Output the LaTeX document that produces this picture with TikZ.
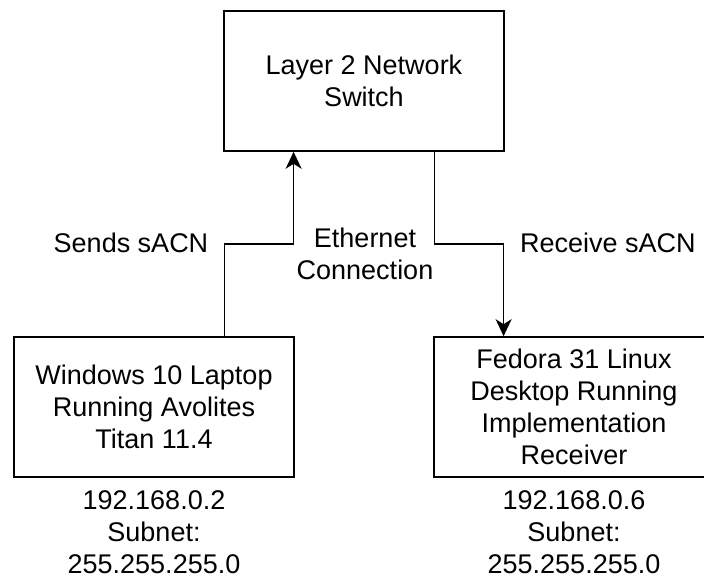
\documentclass[tikz,border=0pt]{standalone}
\usepackage{fontspec}
\setmainfont{Liberation Sans}
\usetikzlibrary{arrows.meta,calc}
\begin{document}
\begin{tikzpicture}[x=1pt,y=-1pt,
  box/.style={draw,line width=1.6pt,minimum width=280pt,minimum height=140pt,inner sep=0pt,align=center},
  lbl/.style={inner sep=0pt,align=center},
  conn/.style={line width=1.6pt,-{Stealth[length=17pt,width=16pt,inset=5pt]}},
  font=\fontsize{27}{32}\selectfont]
\clip (0,0) rectangle (704,578);
\node[box] (sw) at (364,81) {Layer 2 Network\\Switch};
\node[box] (left) at (154,407) {Windows 10 Laptop\\Running Avolites\\Titan 11.4};
\node[box] (right) at (574,407) {Fedora 31 Linux\\Desktop Running\\Implementation\\Receiver};
\coordinate (a1) at ($(left.north west)!0.75!(left.north east)$);
\coordinate (a2) at ($(sw.south west)!0.25!(sw.south east)$);
\coordinate (b1) at ($(sw.south west)!0.75!(sw.south east)$);
\coordinate (b2) at ($(right.north west)!0.25!(right.north east)$);
\draw[conn] (a1) |- ($(a1)!0.5!(a2)$) -| (a2);
\draw[conn] (b1) |- ($(b1)!0.5!(b2)$) -| (b2);
\node[lbl] (sends) at (131,243) {Sends sACN};
\node[lbl] (recv) at (608,243) {Receive sACN};
\node[lbl] (eth) at (365,254) {Ethernet\\Connection};
\node[lbl] (ipl) at (154,532) {192.168.0.2\\Subnet:\\255.255.255.0};
\node[lbl] (ipr) at (574,532) {192.168.0.6\\Subnet:\\255.255.255.0};
\end{tikzpicture}
\end{document}
